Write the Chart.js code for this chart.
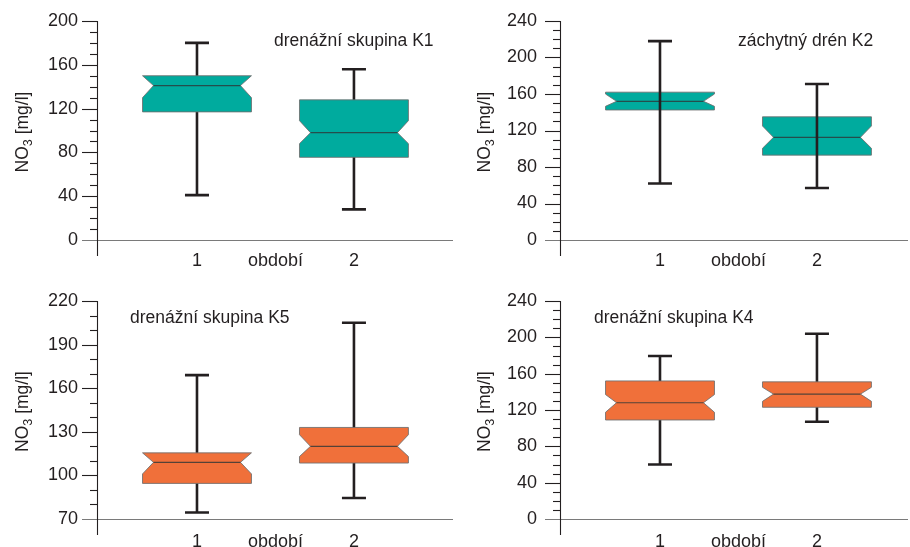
<!DOCTYPE html>
<html>
<head>
<meta charset="utf-8">
<script src="https://cdn.jsdelivr.net/npm/chart.js@4/dist/chart.umd.min.js"></script>
<style>
  html, body { margin: 0; padding: 0; background: #ffffff; }
  body { width: 910px; height: 547px; position: relative; overflow: hidden; }
  .panel { position: absolute; }
</style>
</head>
<body>
<div class="panel" style="left:0;top:0;width:455px;height:275px"><canvas id="c1" width="455" height="275"></canvas></div>
<div class="panel" style="left:455px;top:0;width:455px;height:275px"><canvas id="c2" width="455" height="275"></canvas></div>
<div class="panel" style="left:0;top:280px;width:455px;height:267px"><canvas id="c3" width="455" height="267"></canvas></div>
<div class="panel" style="left:455px;top:280px;width:455px;height:267px"><canvas id="c4" width="455" height="267"></canvas></div>
<script>
// Periods on the x axis and the label placed between them
const periods = [1, 2];
const periodAxisLabel = 'období';
const yAxisUnit = ' [mg/l]';

// Panel titles
const titleK1 = 'drenážní skupina K1';
const titleK2 = 'záchytný drén K2';
const titleK5 = 'drenážní skupina K5';
const titleK4 = 'drenážní skupina K4';

// Box statistics per period: [min, Q1, notch low, median, notch high, Q3, max]
const boxK1 = [
  [41, 117, 130, 141, 150, 150, 180],
  [28, 75.5, 88, 98, 109, 128, 156]
];
const boxK2 = [
  [62, 142.5, 146.5, 152, 160, 162, 218],
  [57, 93, 100.5, 112.5, 125, 135, 171]
];
const boxK5 = [
  [74.5, 94.5, 101, 109, 115.5, 115.5, 169],
  [84.5, 108.5, 113, 120, 128, 133, 205]
];
const boxK4 = [
  [60, 109, 117.5, 128, 137, 152, 179.5],
  [107, 123, 129.5, 137.5, 145, 151, 204]
];

// Y axis ranges and tick steps: [min, max, minor step, labelled step]
const yAxisK1 = [0, 200, 10, 40];
const yAxisK2 = [0, 240, 10, 40];
const yAxisK5 = [70, 220, 10, 30];
const yAxisK4 = [0, 240, 10, 40];

const TEAL = '#00ab9e';
const ORANGE = '#f0703a';
const TEXT = '#231f20';
const FONT = '"Liberation Sans", Arial, sans-serif';

// Draws notched boxes, whiskers, axis lines, tick marks and texts
const boxPlotPlugin = {
  id: 'notchedBoxes',
  afterDatasetsDraw(chart, args, opts) {
    const ctx = chart.ctx;
    const xs = chart.scales.x, ys = chart.scales.y;
    const area = chart.chartArea;
    const halfW = opts.boxWidth / 2;

    const drawWhisker = (b, p) => {
      const cx = xs.getPixelForValue(p);
      const capL = xs.getPixelForValue(p - opts.capWidth / 2);
      const capR = xs.getPixelForValue(p + opts.capWidth / 2);
      ctx.save();
      ctx.strokeStyle = TEXT;
      ctx.lineWidth = 2.6;
      ctx.lineCap = 'butt';
      ctx.beginPath();
      ctx.moveTo(cx, ys.getPixelForValue(b[0]));
      ctx.lineTo(cx, ys.getPixelForValue(b[6]));
      ctx.moveTo(capL, ys.getPixelForValue(b[0]));
      ctx.lineTo(capR, ys.getPixelForValue(b[0]));
      ctx.moveTo(capL, ys.getPixelForValue(b[6]));
      ctx.lineTo(capR, ys.getPixelForValue(b[6]));
      ctx.stroke();
      ctx.restore();
    };

    const drawBox = (b, p) => {
      const L = xs.getPixelForValue(p - halfW);
      const R = xs.getPixelForValue(p + halfW);
      const ind = xs.getPixelForValue(p - halfW + opts.notchDepth) - L;
      const yq1 = ys.getPixelForValue(b[1]);
      const ynl = ys.getPixelForValue(b[2]);
      const ymd = ys.getPixelForValue(b[3]);
      const ynh = ys.getPixelForValue(b[4]);
      const yq3 = ys.getPixelForValue(b[5]);
      ctx.save();
      ctx.beginPath();
      ctx.moveTo(L, yq3);
      ctx.lineTo(R, yq3);
      ctx.lineTo(R, ynh);
      ctx.lineTo(R - ind, ymd);
      ctx.lineTo(R, ynl);
      ctx.lineTo(R, yq1);
      ctx.lineTo(L, yq1);
      ctx.lineTo(L, ynl);
      ctx.lineTo(L + ind, ymd);
      ctx.lineTo(L, ynh);
      ctx.closePath();
      ctx.fillStyle = opts.color;
      ctx.fill();
      ctx.strokeStyle = 'rgba(110,110,110,0.85)';
      ctx.lineWidth = 1;
      ctx.stroke();
      ctx.beginPath();
      ctx.moveTo(L + ind, ymd);
      ctx.lineTo(R - ind, ymd);
      ctx.strokeStyle = 'rgba(45,55,55,0.8)';
      ctx.lineWidth = 1.2;
      ctx.stroke();
      ctx.restore();
    };

    opts.boxes.forEach((b, i) => {
      const p = periods[i];
      if (!opts.whiskerOnTop) drawWhisker(b, p);
      drawBox(b, p);
      if (opts.whiskerOnTop) drawWhisker(b, p);
    });

    // axis lines
    ctx.save();
    ctx.strokeStyle = '#7a7a7a';
    ctx.lineWidth = 1.2;
    ctx.beginPath();
    ctx.moveTo(area.left - 15, area.bottom + 0.5);
    ctx.lineTo(area.right, area.bottom + 0.5);
    ctx.stroke();
    ctx.strokeStyle = TEXT;
    ctx.lineWidth = 1.1;
    ctx.beginPath();
    ctx.moveTo(area.left + 0.5, area.top);
    ctx.lineTo(area.left + 0.5, area.bottom + 16);
    ctx.stroke();

    // tick marks: long at labelled values, short otherwise
    ys.ticks.forEach(t => {
      if (t.value === ys.min) return;
      const y = Math.round(ys.getPixelForValue(t.value)) + 0.5;
      const major = ((t.value - opts.yMin) % opts.labelStep) === 0;
      ctx.beginPath();
      ctx.moveTo(area.left - (major ? 15 : 7), y);
      ctx.lineTo(area.left, y);
      ctx.stroke();
    });

    // panel title
    ctx.fillStyle = TEXT;
    ctx.font = '17.5px ' + FONT;
    ctx.textBaseline = 'middle';
    ctx.textAlign = 'left';
    ctx.fillText(opts.title, opts.titleX, opts.titleY);

    // y axis title: NO3 with subscript
    ctx.translate(opts.yTitleX, (area.top + area.bottom) / 2 + 1.5);
    ctx.rotate(-Math.PI / 2);
    ctx.font = '17.5px ' + FONT;
    const wNO = ctx.measureText('NO').width;
    ctx.font = '12.5px ' + FONT;
    const w3 = ctx.measureText('3').width;
    ctx.font = '17.5px ' + FONT;
    const wU = ctx.measureText(yAxisUnit).width;
    let x0 = -(wNO + w3 + wU) / 2;
    ctx.textBaseline = 'alphabetic';
    ctx.fillText('NO', x0, 6);
    ctx.font = '12.5px ' + FONT;
    ctx.fillText('3', x0 + wNO, 10);
    ctx.font = '17.5px ' + FONT;
    ctx.fillText(yAxisUnit, x0 + wNO + w3, 6);
    ctx.restore();
  }
};

function makePanel(id, boxes, yAxis, color, title, cfg) {
  const [yMin, yMax, step, labelStep] = yAxis;
  new Chart(document.getElementById(id), {
    type: 'scatter',
    data: {
      datasets: [{
        data: boxes.map((b, i) => ({ x: periods[i], y: b[3] })),
        pointRadius: 0,
        pointHoverRadius: 0
      }]
    },
    plugins: [boxPlotPlugin],
    options: {
      responsive: false,
      animation: false,
      devicePixelRatio: 1,
      layout: { padding: { top: 21, right: 2, left: 0, bottom: 0 } },
      plugins: {
        legend: { display: false },
        tooltip: { enabled: false },
        notchedBoxes: {
          boxes: boxes,
          color: color,
          boxWidth: 0.694,
          capWidth: 0.153,
          notchDepth: 0.07,
          whiskerOnTop: cfg.whiskerOnTop,
          title: title,
          titleX: cfg.titleX,
          titleY: cfg.titleY,
          yTitleX: cfg.yTitleX,
          yMin: yMin,
          labelStep: labelStep
        }
      },
      scales: {
        x: {
          type: 'linear',
          min: 0.363,
          max: cfg.xMax,
          grid: { display: false, drawTicks: false },
          border: { display: false },
          afterBuildTicks: s => { s.ticks = [{ value: 1 }, { value: 1.5 }, { value: 2 }]; },
          afterFit: s => { s.height = cfg.xHeight; s.paddingLeft = 0; s.paddingRight = 0; },
          ticks: {
            padding: cfg.xPad,
            autoSkip: false,
            maxRotation: 0,
            color: TEXT,
            font: { family: FONT, size: 18 },
            callback: v => (v === 1.5 ? periodAxisLabel : String(v))
          }
        },
        y: {
          type: 'linear',
          min: yMin,
          max: yMax,
          grid: { display: false, drawTicks: false },
          border: { display: false },
          afterFit: s => { s.width = cfg.yWidth; s.paddingTop = 0; s.paddingBottom = 0; },
          ticks: {
            stepSize: step,
            autoSkip: false,
            padding: cfg.labelPad,
            color: TEXT,
            font: { family: FONT, size: 18 },
            callback: v => (((v - yMin) % labelStep) === 0 ? String(v) : '')
          }
        }
      }
    }
  });
}

makePanel('c1', boxK1, yAxisK1, TEAL, titleK1,
  { xMax: 2.631, xHeight: 35, xPad: 10, yWidth: 97, labelPad: 19, titleX: 274, titleY: 41, yTitleX: 22, whiskerOnTop: false });
makePanel('c2', boxK2, yAxisK2, TEAL, titleK2,
  { xMax: 2.58, xHeight: 35, xPad: 10, yWidth: 105, labelPad: 23, titleX: 283, titleY: 41, yTitleX: 29, whiskerOnTop: true });
makePanel('c3', boxK5, yAxisK5, ORANGE, titleK5,
  { xMax: 2.631, xHeight: 28, xPad: 12, yWidth: 97, labelPad: 19, titleX: 130, titleY: 38, yTitleX: 22, whiskerOnTop: false });
makePanel('c4', boxK4, yAxisK4, ORANGE, titleK4,
  { xMax: 2.58, xHeight: 28, xPad: 12, yWidth: 105, labelPad: 23, titleX: 139, titleY: 38, yTitleX: 29, whiskerOnTop: false });
</script>
</body>
</html>
